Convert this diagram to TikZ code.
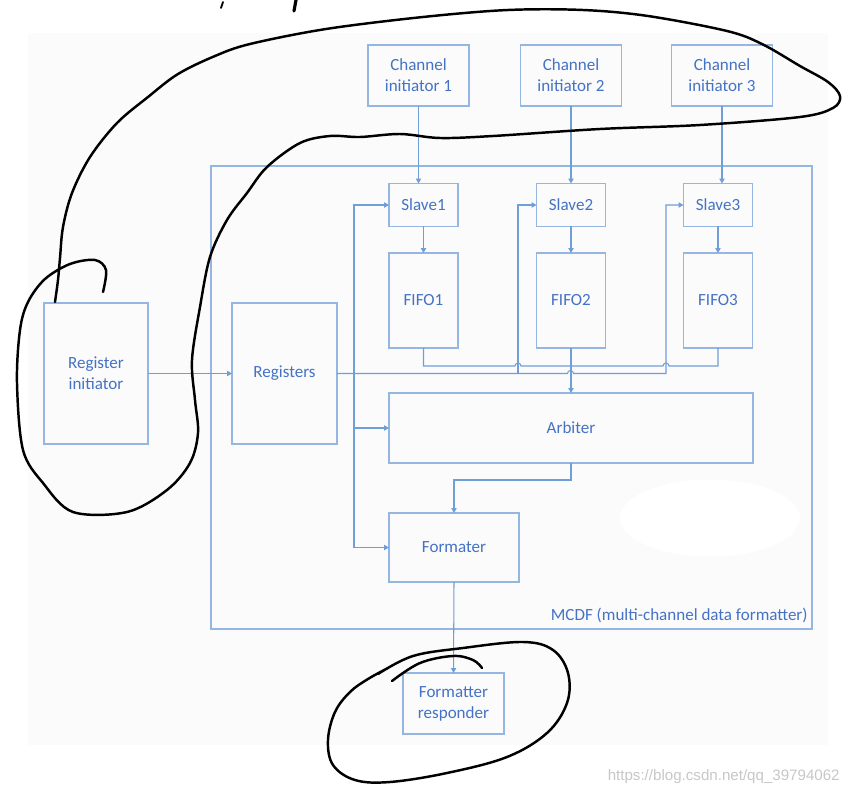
\documentclass[tikz,border=0pt]{standalone}
\usepackage{fontspec}
\setmainfont{Carlito}
\newfontfamily\markfont{Liberation Sans}
\usetikzlibrary{positioning}
\usetikzlibrary{arrows.meta}
\definecolor{boxline}{RGB}{150,182,226}
\definecolor{wireline}{RGB}{112,158,214}
\definecolor{boxtext}{RGB}{68,114,196}
\definecolor{panel}{RGB}{251,251,252}

\begin{document}
\begin{tikzpicture}[x=0.02cm, y=-0.02cm,
    blk/.style={rectangle,
          draw=boxline,
          line width=0.7pt,
          inner sep=0pt,
          outer sep=0pt,
          text=boxtext,
          align=center,
          font=\fontsize{9.7}{11.9}\selectfont},
    wire/.style={draw=wireline, line width=0.6pt},
    arr/.style={-{Triangle[length=2.8pt,width=3pt]}},
    hand/.style={black, line width=1.4pt, line cap=round, line join=round}]
   \useasboundingbox (0,0) rectangle (849,794);
   \fill[panel] (28,33) rectangle (828,745);
   \fill[white] (710,518) ellipse [x radius=1.8cm, y radius=0.77cm];

   \node[blk, minimum width=12.02cm, minimum height=9.26cm] (mcdf) at (511.5,397.5) {};
   \node[text=boxtext, inner sep=0pt, anchor=base east,
          font=\fontsize{9.7}{11.9}\selectfont] (mcdflbl) at (808,620.5) {MCDF (multi-channel data formatter)};

   \node[blk, minimum width=2.02cm, minimum height=1.22cm] (ch1) at (418.5,75.5) {Channel\\initiator 1};
   \node[blk, minimum width=2.02cm, minimum height=1.22cm] (ch2) at (571,75.5) {Channel\\initiator 2};
   \node[blk, minimum width=2.02cm, minimum height=1.22cm] (ch3) at (722,75.5) {Channel\\initiator 3};

   \node[blk, minimum width=1.38cm, minimum height=0.86cm] (slave1) at (423.5,205) {Slave1};
   \node[blk, minimum width=1.38cm, minimum height=0.86cm] (slave2) at (571,205) {Slave2};
   \node[blk, minimum width=1.38cm, minimum height=0.86cm] (slave3) at (718,205) {Slave3};

   \node[blk, minimum width=1.38cm, minimum height=1.9cm] (fifo1) at (423.5,300.5) {FIFO1};
   \node[blk, minimum width=1.38cm, minimum height=1.9cm] (fifo2) at (571,300.5) {FIFO2};
   \node[blk, minimum width=1.38cm, minimum height=1.9cm] (fifo3) at (718,300.5) {FIFO3};

   \node[blk, minimum width=2.08cm, minimum height=2.82cm] (reginit) at (96,373.5) {Register\\initiator};
   \node[blk, minimum width=2.1cm, minimum height=2.82cm] (regs) at (284.5,373.5) {Registers};
   \node[blk, minimum width=7.28cm, minimum height=1.4cm] (arb) at (571,428) {Arbiter};
   \node[blk, minimum width=2.6cm, minimum height=1.38cm] (fmt) at (454,547.5) {Formater};
   \node[blk, minimum width=2.02cm, minimum height=1.22cm] (resp) at (453.5,703.5) {Formatter\\responder};

   \coordinate (tap1) at (354,373.5);
   \coordinate (tap2) at (518,373.5);
   \coordinate (tap3) at (666,373.5);

   \draw[wire, arr] (ch1.south) -- (ch1.south |- slave1.north);
   \draw[wire, arr] (ch2.south) -- (ch2.south |- slave2.north);
   \draw[wire, arr] (ch3.south) -- (ch3.south |- slave3.north);
   \draw[wire, arr] (slave1) -- (fifo1);
   \draw[wire, arr] (slave2) -- (fifo2);
   \draw[wire, arr] (slave3) -- (fifo3);

   \draw[wire, arr] (reginit.east) -- (regs.west);
   \draw[wire, arr] (regs.east) -- (567.5,373.5) arc[start angle=180, end angle=0, radius=0.06cm] -- (tap3) |- (slave3.west);
   \draw[wire, arr] (tap2) |- (slave2.west);
   \draw[wire, arr] (tap1) |- (slave1.west);
   \draw[wire, arr] (tap1) |- (arb.west);
   \draw[wire, arr] (tap1) |- (fmt.west);

   \draw[wire] (fifo1.south) |- (515,366) arc[start angle=180, end angle=0, radius=0.06cm]
        -- (663,366) arc[start angle=180, end angle=0, radius=0.06cm] -| (fifo3.south);
   \draw[wire, arr] (fifo2.south) -- (arb.north);
   \draw[wire, arr] (arb.south) -- ++(0,17) -| (fmt.north);
   \draw[wire, arr] (fmt.south) -- (resp.north);

   \draw[hand] plot[smooth, tension=0.55] coordinates {(55,302) (58,280) (60,258) (63,227) (72,193) (90,157) (117,123)
        (148,97) (178,74) (215,56) (250,44) (326,29) (423,17) (508,10) (583,10) (648,16) (727,31) (762,44)
        (800,66) (828,82) (840,96) (833,108) (800,117) (700,125) (600,129) (493,136) (440,138) (400,134)
        (360,137) (330,136) (300,143) (267,167) (247,193) (227,220) (210,257) (200,307) (192,360) (195,400)
        (198,433) (190,463) (167,490) (127,512) (73,512) (43,483) (23,450) (17,383) (20,330) (28,302)
        (45,279) (70,264) (95,260) (106,270) (103,292)};
   \draw[hand] plot[smooth, tension=0.6] coordinates {(392,681) (420,663) (453,656) (473,660) (482,668)};
   \draw[hand] plot[smooth, tension=0.6] coordinates {(378,674) (413,656) (463,648) (523,642) (553,650)
        (568,673) (567,703) (547,733) (507,757) (447,773) (390,782) (355,780) (333,765) (328,740)
        (335,712) (350,692) (368,679) (388,668)};
   \draw[hand, line width=1pt] (223,2) -- (221,8);
   \draw[hand, line width=1.8pt] (296,0) -- (294,11);

   \node[text=black!22, inner sep=0pt, anchor=base east,
          font=\markfont\fontsize{8.6}{10}\selectfont] (mark) at (840,780) {https://blog.csdn.net/qq\_39794062};
\end{tikzpicture}
\end{document}
